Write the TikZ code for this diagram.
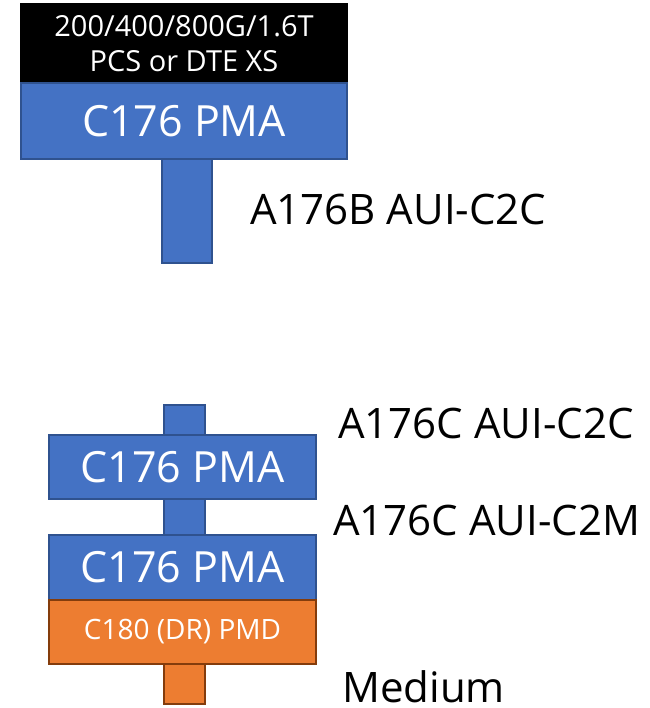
\documentclass[tikz,border=0pt]{standalone}
\usepackage{fontspec}
\setmainfont{Open Sans}
\definecolor{PmaBlue}{HTML}{4472C4}
\definecolor{PmaEdge}{HTML}{2F528F}
\definecolor{PmdOrange}{HTML}{ED7D31}
\definecolor{PmdEdge}{HTML}{843C0C}
\usetikzlibrary{positioning}

\begin{document}
\begin{tikzpicture}[x=1pt,y=-1pt,
      blk/.style={draw=PmaEdge,fill=PmaBlue,line width=1.5pt,inner sep=0pt,text=white},
      pma/.style={blk,minimum width=267pt,minimum height=64pt,
                  font=\fontsize{43}{43}\selectfont},
      pmd/.style={pma,draw=PmdEdge,fill=PmdOrange,font=\fontsize{28}{28}\selectfont},
      stem/.style={blk,minimum width=41pt},
      lab/.style={anchor=base west,inner sep=0pt,font=\fontsize{42}{42}\selectfont}]
    \useasboundingbox (0,0) rectangle (649,708);
    % host side
    \node[stem,minimum width=50pt,minimum height=104pt] (s0) at (187,211) {};
    \node[blk,draw=black,fill=black,minimum width=326pt,minimum height=79pt,align=center,
          font=\fontsize{29}{35}\selectfont] (pcs) at (184,43.5) {200/400/800G/1.6T\\PCS or DTE XS};
    \node[pma,minimum width=326pt,minimum height=76pt] (pma0) at (184,121) {C176 PMA};
    \node[lab] (c2c0) at (250,225) {A176B AUI-C2C};
    % module side
    \node[stem,minimum height=35pt] (s1) at (184.5,422.5) {};
    \node[stem,minimum height=40pt] (s2) at (184.5,517) {};
    \node[stem,draw=PmdEdge,fill=PmdOrange,minimum height=40pt] (s3) at (184.5,684) {};
    \node[pma] (pma1) at (182.5,467) {C176 PMA};
    \node[pma,minimum height=65pt] (pma2) at (182.5,567.5) {C176 PMA};
    \node[pmd] (pmd) at (182.5,632) {C180 (DR) PMD};
    \node[lab] (c2c1) at (338,438) {A176C AUI-C2C};
    \node[lab] (c2m)  at (333,535) {A176C AUI-C2M};
    \node[lab] (med)  at (342,702) {Medium};
  \end{tikzpicture}
\end{document}
